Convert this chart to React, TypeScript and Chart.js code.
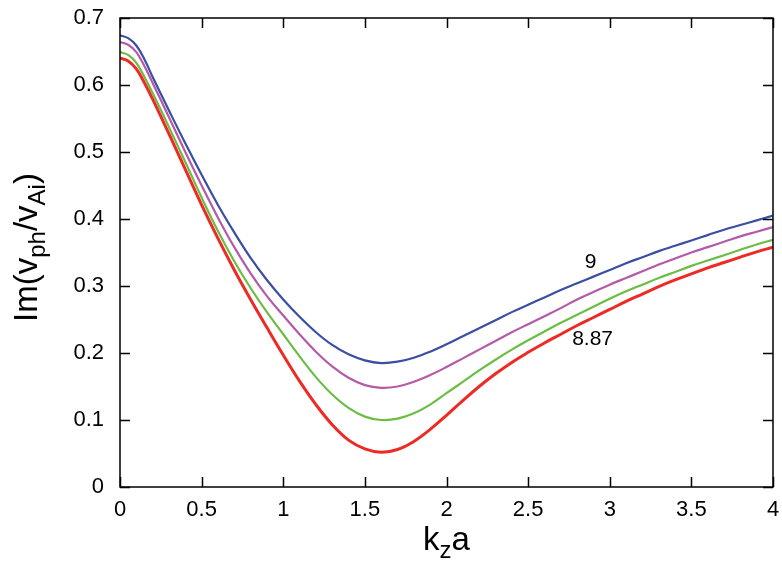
import React, { useEffect, useRef } from "react";
import { Chart, registerables } from "chart.js";

Chart.register(...registerables);

// ---------- data ----------
const kza = [0, 0.05, 0.1, 0.15, 0.2, 0.3, 0.4, 0.5, 0.6, 0.7, 0.8, 0.9, 1.0, 1.1, 1.2, 1.3, 1.4, 1.5, 1.6, 1.7, 1.8, 1.9, 2.0, 2.1, 2.2, 2.3, 2.4, 2.5, 2.6, 2.7, 2.8, 2.9, 3.0, 3.1, 3.2, 3.3, 3.4, 3.5, 3.6, 3.7, 3.8, 3.9, 4.0];

const blueSeries = [0.674, 0.670, 0.659, 0.638, 0.612, 0.562, 0.513, 0.466, 0.421, 0.380, 0.342, 0.309, 0.280, 0.254, 0.231, 0.212, 0.198, 0.189, 0.185, 0.187, 0.193, 0.202, 0.213, 0.225, 0.237, 0.249, 0.261, 0.272, 0.283, 0.294, 0.304, 0.314, 0.324, 0.334, 0.343, 0.352, 0.360, 0.368, 0.376, 0.384, 0.391, 0.398, 0.405];
const purpleSeries = [0.664, 0.660, 0.649, 0.628, 0.603, 0.552, 0.500, 0.450, 0.402, 0.358, 0.319, 0.285, 0.256, 0.228, 0.202, 0.180, 0.163, 0.152, 0.148, 0.150, 0.157, 0.167, 0.179, 0.192, 0.205, 0.218, 0.231, 0.243, 0.255, 0.267, 0.280, 0.291, 0.302, 0.312, 0.322, 0.332, 0.341, 0.350, 0.358, 0.366, 0.374, 0.381, 0.388];
const greenSeries = [0.649, 0.645, 0.633, 0.612, 0.588, 0.537, 0.485, 0.432, 0.382, 0.337, 0.297, 0.261, 0.228, 0.195, 0.164, 0.138, 0.118, 0.105, 0.100, 0.102, 0.110, 0.123, 0.140, 0.157, 0.174, 0.190, 0.205, 0.219, 0.232, 0.245, 0.257, 0.269, 0.281, 0.292, 0.302, 0.312, 0.321, 0.330, 0.338, 0.346, 0.354, 0.362, 0.369];
const redSeries = [0.640, 0.636, 0.624, 0.603, 0.579, 0.527, 0.474, 0.421, 0.371, 0.324, 0.280, 0.238, 0.197, 0.158, 0.123, 0.093, 0.070, 0.057, 0.052, 0.056, 0.068, 0.086, 0.107, 0.129, 0.150, 0.169, 0.186, 0.201, 0.215, 0.228, 0.241, 0.253, 0.265, 0.277, 0.288, 0.299, 0.309, 0.318, 0.327, 0.335, 0.343, 0.351, 0.358];

const xTickValues = [0, 0.5, 1, 1.5, 2, 2.5, 3, 3.5, 4];
const xTickLabels = ["0", "0.5", "1", "1.5", "2", "2.5", "3", "3.5", "4"];
const yTickValues = [0, 0.1, 0.2, 0.3, 0.4, 0.5, 0.6, 0.7];
const yTickLabels = ["0", "0.1", "0.2", "0.3", "0.4", "0.5", "0.6", "0.7"];

const curveLabels = ["9", "8.87"];
const curveLabelX = [2.883, 2.895];
const curveLabelY = [0.336, 0.221];

const FONT = '"Liberation Sans", Arial, Helvetica, sans-serif';

const toPoints = (ys: number[]) => ys.map((y, i) => ({ x: kza[i], y }));

const zeroPadding = (scale: any) => {
  scale.paddingTop = 0;
  scale.paddingBottom = 0;
  scale.paddingLeft = 0;
  scale.paddingRight = 0;
};

const framePlugin = {
  id: "frame",
  afterDraw(chart: any) {
    const { ctx, chartArea: a, scales } = chart;
    const xs = scales.x;
    const ys = scales.y;
    ctx.save();
    // box
    ctx.strokeStyle = "#000";
    ctx.lineWidth = 1.5;
    ctx.strokeRect(a.left, a.top, a.right - a.left, a.bottom - a.top);
    // inward ticks on all four sides
    const L = 10;
    ctx.beginPath();
    xTickValues.forEach((v) => {
      const px = Math.round(xs.getPixelForValue(v)) + 0.5;
      ctx.moveTo(px, a.bottom);
      ctx.lineTo(px, a.bottom - L);
      ctx.moveTo(px, a.top);
      ctx.lineTo(px, a.top + L);
    });
    yTickValues.forEach((v) => {
      const py = Math.round(ys.getPixelForValue(v)) + 0.5;
      ctx.moveTo(a.left, py);
      ctx.lineTo(a.left + L, py);
      ctx.moveTo(a.right, py);
      ctx.lineTo(a.right - L, py);
    });
    ctx.stroke();

    // curve labels
    ctx.fillStyle = "#000";
    ctx.font = `21px ${FONT}`;
    ctx.textAlign = "center";
    ctx.textBaseline = "middle";
    curveLabels.forEach((t, i) => {
      ctx.fillText(t, xs.getPixelForValue(curveLabelX[i]), ys.getPixelForValue(curveLabelY[i]));
    });

    // axis titles with subscripts
    const big = `33px ${FONT}`;
    const small = `24px ${FONT}`;
    const drawParts = (parts: { t: string; sub: boolean }[], subShift: number) => {
      let total = 0;
      parts.forEach((p) => {
        ctx.font = p.sub ? small : big;
        total += ctx.measureText(p.t).width;
      });
      let x = -total / 2;
      ctx.textAlign = "left";
      ctx.textBaseline = "alphabetic";
      parts.forEach((p) => {
        ctx.font = p.sub ? small : big;
        ctx.fillText(p.t, x, p.sub ? subShift : 0);
        x += ctx.measureText(p.t).width;
      });
    };

    // x title
    ctx.save();
    ctx.translate((a.left + a.right) / 2, a.bottom + 63);
    drawParts(
      [
        { t: "k", sub: false },
        { t: "z", sub: true },
        { t: "a", sub: false },
      ],
      8
    );
    ctx.restore();

    // y title
    ctx.save();
    ctx.translate(37, (a.top + a.bottom) / 2 - 5);
    ctx.rotate(-Math.PI / 2);
    drawParts(
      [
        { t: "Im(v", sub: false },
        { t: "ph", sub: true },
        { t: "/v", sub: false },
        { t: "Ai", sub: true },
        { t: ")", sub: false },
      ],
      8
    );
    ctx.restore();

    ctx.restore();
  },
};

export default function App() {
  const canvasRef = useRef<HTMLCanvasElement | null>(null);

  useEffect(() => {
    const canvas = canvasRef.current;
    if (!canvas) return;
    const mk = (label: string, ys: number[], color: string, width: number) => ({
      label,
      data: toPoints(ys),
      borderColor: color,
      backgroundColor: color,
      borderWidth: width,
      pointRadius: 0,
      pointHoverRadius: 0,
      pointHitRadius: 0,
      fill: false,
      tension: 0.4,
    });
    const chart = new Chart(canvas, {
      type: "line",
      data: {
        datasets: [
          mk("8.87", redSeries, "#ee2a24", 3),
          mk("green", greenSeries, "#6cbd45", 2.2),
          mk("purple", purpleSeries, "#b35aa9", 2.2),
          mk("9", blueSeries, "#3a4ea2", 2.2),
        ],
      },
      options: {
        animation: false,
        responsive: false,
        maintainAspectRatio: false,
        layout: { autoPadding: false, padding: { left: 0, right: 9, top: 18, bottom: 0 } },
        plugins: {
          legend: { display: false },
          tooltip: { enabled: false },
          title: { display: false },
        },
        scales: {
          x: {
            type: "linear",
            min: 0,
            max: 4,
            afterBuildTicks: (scale: any) => {
              scale.ticks = xTickValues.map((v) => ({ value: v }));
            },
            afterFit: (scale: any) => {
              scale.height = 74;
              zeroPadding(scale);
            },
            ticks: {
              autoSkip: false,
              maxRotation: 0,
              padding: 10,
              color: "#000",
              font: { family: FONT, size: 22 },
              callback: (v: any) => {
                const i = xTickValues.indexOf(Number(v));
                return i >= 0 ? xTickLabels[i] : "";
              },
            },
            grid: { display: false, drawTicks: false },
            border: { display: false },
          },
          y: {
            type: "linear",
            min: 0,
            max: 0.7,
            afterBuildTicks: (scale: any) => {
              scale.ticks = yTickValues.map((v) => ({ value: v }));
            },
            afterFit: (scale: any) => {
              scale.width = 120;
              zeroPadding(scale);
            },
            ticks: {
              autoSkip: false,
              padding: 16,
              color: "#000",
              font: { family: FONT, size: 22 },
              callback: (v: any) => {
                const i = yTickValues.findIndex((t) => Math.abs(t - Number(v)) < 1e-9);
                return i >= 0 ? yTickLabels[i] : "";
              },
            },
            grid: { display: false, drawTicks: false },
            border: { display: false },
          },
        },
      },
      plugins: [framePlugin],
    });
    return () => chart.destroy();
  }, []);

  return (
    <div style={{ position: "fixed", left: 0, top: 0, width: 782, height: 561, background: "#fff" }}>
      <canvas ref={canvasRef} width={782} height={561} style={{ width: 782, height: 561, display: "block" }} />
    </div>
  );
}
